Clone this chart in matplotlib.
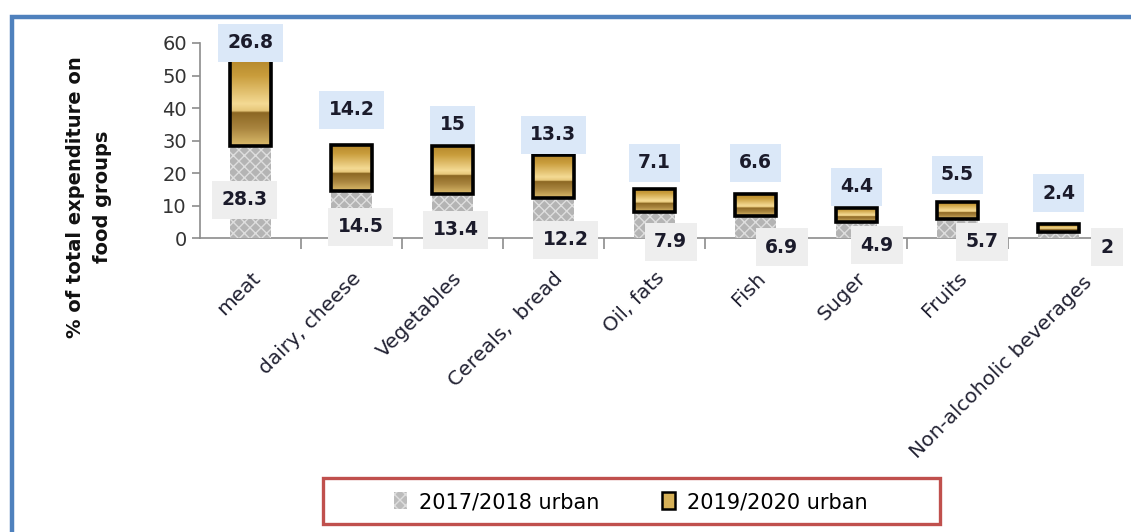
import numpy as np
import matplotlib
matplotlib.use('Agg')
import matplotlib.pyplot as plt
from matplotlib.patches import Rectangle, Patch
from matplotlib.colors import LinearSegmentedColormap
from matplotlib.transforms import ScaledTranslation

# данные с картинки
categories = ['meat', 'dairy, cheese', 'Vegetables', 'Cereals,  bread', 'Oil, fats',
              'Fish', 'Suger', 'Fruits', 'Non-alcoholic beverages']
urban_2017 = [28.3, 14.5, 13.4, 12.2, 7.9, 6.9, 4.9, 5.7, 2]
urban_2019 = [26.8, 14.2, 15, 13.3, 7.1, 6.6, 4.4, 5.5, 2.4]
series_names = ['2017/2018 urban', '2019/2020 urban']
y_ticks = [0, 10, 20, 30, 40, 50, 60]

# где стоят подписи (как в исходном excel-графике)
top_label_y = [60, 39.4, 34.8, 31.7, 23.1, 23.1, 15.7, 19.4, 13.8]
bottom_label_dx = [-0.06, 0.09, 0.03, 0.12, 0.16, 0.26, 0.20, 0.24, 0.48]
bottom_label_y = [11.7, 3.4, 2.5, -0.6, -1.2, -2.8, -2.2, -1.2, -2.8]

W, H = 1131, 532
plt.rcParams['font.family'] = ['DejaVu Sans']

fig = plt.figure(figsize=(W / 100, H / 100), dpi=100)
ax = fig.add_axes([200 / W, 1 - 238 / H, 909 / W, 195 / H])

x = np.arange(len(categories))
bw = 0.41

grey = ax.bar(x, urban_2017, bw, color='#b4b4b4', hatch='xxx',
              edgecolor='#dedede', linewidth=0, zorder=2)
gold = ax.bar(x, urban_2019, bw, bottom=urban_2017, facecolor='none',
              edgecolor='black', linewidth=2.6, zorder=4)

gold_cmap = LinearSegmentedColormap.from_list('gold', [
    (0.0, '#b3862a'), (0.2, '#c99d3c'), (0.52, '#f4da94'),
    (0.6, '#e6c679'), (0.62, '#8c6723'), (0.8, '#a9853f'), (1.0, '#dcbc6c')])
grad = np.linspace(0, 1, 256).reshape(-1, 1)
for p in gold:
    x0, y0 = p.get_x(), p.get_y()
    im = ax.imshow(grad, extent=[x0, x0 + p.get_width(), y0, y0 + p.get_height()],
                   aspect='auto', cmap=gold_cmap, zorder=3)
    im.set_clip_path(p)

ax.set_xlim(-0.5, len(categories) - 0.5)
ax.set_ylim(0, 60)
ax.set_aspect('auto')

# подписи значений
for i in range(len(categories)):
    ax.text(x[i], top_label_y[i], str(urban_2019[i]), ha='center', va='center',
            fontsize=13.5, fontweight='bold', color='#1b1b2b', zorder=6, clip_on=False,
            bbox=dict(boxstyle='square,pad=0.5', fc='#dbe8f8', ec='none'))
    ax.text(x[i] + bottom_label_dx[i], bottom_label_y[i], str(urban_2017[i]),
            ha='center', va='center', fontsize=13.5, fontweight='bold', color='#1b1b2b',
            zorder=6, clip_on=False,
            bbox=dict(boxstyle='square,pad=0.5', fc='#eeeeee', ec='none'))

for s in ['top', 'right']:
    ax.spines[s].set_visible(False)
for s in ['left', 'bottom']:
    ax.spines[s].set_color('#8c8c8c')
    ax.spines[s].set_linewidth(1.2)
    ax.spines[s].set_zorder(1)

ax.set_yticks(y_ticks)
ax.tick_params(axis='y', colors='#8c8c8c', labelcolor='#333333', labelsize=14,
               length=6, width=1.2)
ax.set_xticks(x)
ax.set_xticklabels(categories, rotation=45, ha='right', rotation_mode='anchor',
                   fontsize=14.5, color='#222233')
ax.tick_params(axis='x', length=0, pad=22)
ax.set_xticks(np.arange(0.5, len(categories) - 0.5), minor=True)
ax.tick_params(axis='x', which='minor', length=8, width=1.2, colors='#8c8c8c')

# длинная подпись в оригинале сдвинута вправо
last = ax.get_xticklabels()[-1]
last.set_transform(last.get_transform() + ScaledTranslation(0.24, -0.04, fig.dpi_scale_trans))

fig.text(89 / W, 1 - 197 / H, '% of total expenditure on\nfood groups', rotation=90,
         ha='center', va='center', fontsize=14, fontweight='bold',
         linespacing=1.55, color='#111111')

# синяя рамка вокруг графика
fig.patches.append(Rectangle((12 / W, -0.2), 1.2, 1.2 - 17 / H,
                             transform=fig.transFigure, fill=False,
                             ec='#4f81bd', lw=3.2, zorder=0))
# рамка легенды
fig.patches.append(Rectangle((323 / W, 1 - 524 / H), 617 / W, 46 / H,
                             transform=fig.transFigure, fill=False,
                             ec='#c0504d', lw=2.4, zorder=5))

handles = [Patch(fc='#bcbcbc', hatch='xxx', ec='#dedede', lw=0),
           Patch(fc='#d6b158', ec='black', lw=1.8)]
fig.legend(handles, series_names, loc='center', ncol=2, frameon=False,
           bbox_to_anchor=(631 / W, 1 - 502 / H), fontsize=15,
           handlelength=0.6, handleheight=0.9, handletextpad=0.6,
           columnspacing=3.0)

fig.savefig('out.png', dpi=100)
